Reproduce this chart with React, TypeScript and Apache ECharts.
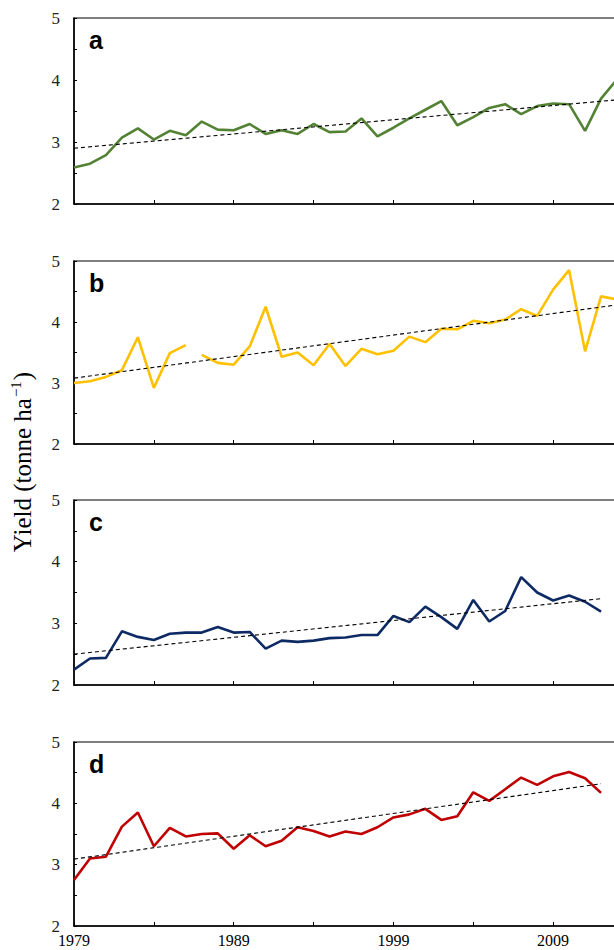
import React, { useEffect, useRef } from "react";
import * as echarts from "echarts";

const BASE_YEAR = 1979;
const SPAN = 34; // axis extent in years after 1979

const yearsFull = [1979, 1980, 1981, 1982, 1983, 1984, 1985, 1986, 1987, 1988, 1989, 1990, 1991, 1992, 1993, 1994, 1995, 1996, 1997, 1998, 1999, 2000, 2001, 2002, 2003, 2004, 2005, 2006, 2007, 2008, 2009, 2010, 2011, 2012, 2013];
const yearsShort = [1979, 1980, 1981, 1982, 1983, 1984, 1985, 1986, 1987, 1988, 1989, 1990, 1991, 1992, 1993, 1994, 1995, 1996, 1997, 1998, 1999, 2000, 2001, 2002, 2003, 2004, 2005, 2006, 2007, 2008, 2009, 2010, 2011, 2012];

const yieldA = [2.59, 2.65, 2.79, 3.07, 3.22, 3.04, 3.18, 3.11, 3.33, 3.2, 3.19, 3.29, 3.13, 3.19, 3.13, 3.29, 3.16, 3.17, 3.38, 3.09, 3.23, 3.38, 3.52, 3.66, 3.27, 3.4, 3.55, 3.61, 3.45, 3.58, 3.62, 3.61, 3.18, 3.7, 4.01];
const yieldB = [3.0, 3.03, 3.1, 3.21, 3.75, 2.92, 3.49, 3.62, 3.46, 3.33, 3.3, 3.6, 4.25, 3.43, 3.5, 3.29, 3.64, 3.28, 3.56, 3.47, 3.53, 3.76, 3.67, 3.89, 3.88, 4.02, 3.98, 4.04, 4.21, 4.1, 4.53, 4.85, 3.52, 4.42, 4.37];
const breakYearB = 1987; // line in panel b is broken before this year
const yieldC = [2.25, 2.43, 2.44, 2.87, 2.78, 2.73, 2.83, 2.85, 2.85, 2.94, 2.85, 2.86, 2.59, 2.72, 2.7, 2.72, 2.76, 2.77, 2.81, 2.81, 3.12, 3.02, 3.27, 3.1, 2.91, 3.38, 3.03, 3.2, 3.75, 3.5, 3.37, 3.45, 3.35, 3.19];
const yieldD = [2.75, 3.1, 3.13, 3.62, 3.85, 3.3, 3.6, 3.46, 3.5, 3.51, 3.26, 3.48, 3.3, 3.39, 3.61, 3.55, 3.46, 3.54, 3.5, 3.61, 3.77, 3.82, 3.91, 3.73, 3.79, 4.18, 4.04, 4.23, 4.42, 4.3, 4.44, 4.51, 4.41, 4.17];

const trendYears = [[1979, 2013], [1979, 2013], [1979, 2012], [1979, 2012]];
const trendValues = [[2.9, 3.68], [3.08, 4.28], [2.5, 3.4], [3.09, 4.32]];

const panelLetters = ["a", "b", "c", "d"];
const lineColors = ["#548235", "#FFC000", "#0E2A64", "#C00000"];
const xTickLabels = [1979, 1989, 1999, 2009];
const yTickLabels = [2, 3, 4, 5];
const yTitleMain = "Yield (tonne ha";
const yTitleSup = "\u22121";
const yTitleEnd = ")";

const gridTops = [18, 261, 500, 742];
const gridHeights = [186, 183, 185, 184];

const pairs = (ys: number[], vs: number[]) => ys.map((y, i) => [y - BASE_YEAR, vs[i]]);

export default function App() {
  const ref = useRef<HTMLDivElement>(null);
  useEffect(() => {
    if (!ref.current) return;
    const chart = echarts.init(ref.current, undefined, { renderer: "svg" });
    const grids = gridTops.map((t, i) => ({
      left: 74,
      top: t,
      width: 543,
      height: gridHeights[i],
      show: true,
      borderColor: "#000",
      borderWidth: 1.2,
      backgroundColor: "transparent",
    }));
    const xAxes = gridTops.map((_, i) => ({
      type: "value",
      gridIndex: i,
      min: 0,
      max: SPAN,
      interval: 5,
      axisLine: { show: true, onZero: false, lineStyle: { color: "#000", width: 1.5 } },
      axisTick: { show: true, inside: true, length: 4, lineStyle: { color: "#000", width: 1 } },
      splitLine: { show: false },
      axisLabel: {
        show: i === 3,
        margin: 6,
        fontFamily: "Liberation Serif",
        fontSize: 16,
        color: "#000",
        formatter: (v: number) => (xTickLabels.includes(v + BASE_YEAR) ? String(v + BASE_YEAR) : ""),
      },
    }));
    const yAxes = gridTops.map((_, i) => ({
      type: "value",
      gridIndex: i,
      min: 2,
      max: 5,
      interval: 0.5,
      axisLine: { show: true, onZero: false, lineStyle: { color: "#000", width: 1.5 } },
      axisTick: { show: true, inside: true, length: 3, lineStyle: { color: "#000", width: 1 } },
      splitLine: { show: false },
      axisLabel: {
        margin: 14,
        fontFamily: "Liberation Serif",
        fontSize: 17,
        color: "#222",
        formatter: (v: number) => (yTickLabels.includes(v) ? String(v) : ""),
      },
    }));
    const mainLine = (i: number, data: number[][]) => ({
      type: "line",
      xAxisIndex: i,
      yAxisIndex: i,
      data,
      symbol: "none",
      lineStyle: { color: lineColors[i], width: 2.6 },
      z: 2,
      silent: true,
    });
    const breakIdx = yearsFull.indexOf(breakYearB);
    const series: any[] = [
      mainLine(0, pairs(yearsFull, yieldA)),
      mainLine(1, pairs(yearsFull.slice(0, breakIdx), yieldB.slice(0, breakIdx))),
      mainLine(1, pairs(yearsFull.slice(breakIdx), yieldB.slice(breakIdx))),
      mainLine(2, pairs(yearsShort, yieldC)),
      mainLine(3, pairs(yearsShort, yieldD)),
    ];
    trendYears.forEach((ty, i) => {
      series.push({
        type: "line",
        xAxisIndex: i,
        yAxisIndex: i,
        data: pairs(ty, trendValues[i]),
        symbol: "none",
        lineStyle: { color: "#000", width: 1.1, type: [4, 3] },
        z: 3,
        silent: true,
      });
    });
    const graphic: any[] = panelLetters.map((l, i) => ({
      type: "text",
      x: 89,
      y: gridTops[i] + 22,
      style: {
        text: l,
        font: 'bold 25px "Liberation Sans", Arial, sans-serif',
        fill: "#000",
        align: "left",
        verticalAlign: "middle",
      },
    }));
    graphic.push({
      type: "text",
      x: 22,
      y: 462,
      rotation: Math.PI / 2,
      style: {
        text: `{m|${yTitleMain}}{s|${yTitleSup}}{m|${yTitleEnd}}`,
        fill: "#000",
        align: "center",
        verticalAlign: "middle",
        rich: {
          m: { fontFamily: "Liberation Serif", fontSize: 25, fill: "#000", color: "#000" },
          s: { fontFamily: "Liberation Serif", fontSize: 15, fill: "#000", color: "#000", padding: [0, 1, 12, 1] },
        },
      },
    });
    chart.setOption({
      animation: false,
      backgroundColor: "#fff",
      grid: grids,
      xAxis: xAxes,
      yAxis: yAxes,
      series,
      graphic,
    });
    return () => chart.dispose();
  }, []);
  return (
    <div style={{ position: "absolute", left: 0, top: 0, width: 614, height: 950, overflow: "hidden" }}>
      <div ref={ref} style={{ width: 640, height: 950 }} />
    </div>
  );
}
